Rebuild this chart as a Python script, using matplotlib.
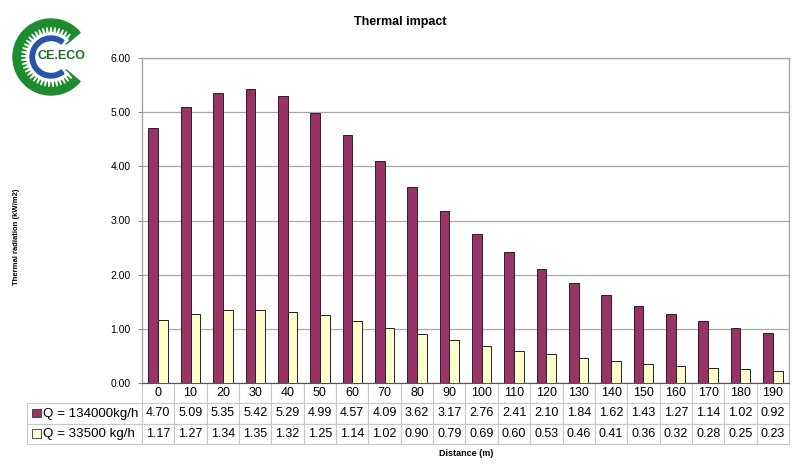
import numpy as np
import matplotlib
matplotlib.use('Agg')
import matplotlib.pyplot as plt
from matplotlib.patches import Wedge, Rectangle, Polygon

plt.rcParams['font.family'] = ['Liberation Sans', 'DejaVu Sans']

distances = [0, 10, 20, 30, 40, 50, 60, 70, 80, 90,
             100, 110, 120, 130, 140, 150, 160, 170, 180, 190]
q_high = [4.70, 5.09, 5.35, 5.42, 5.29, 4.99, 4.57, 4.09, 3.62, 3.17,
          2.76, 2.41, 2.10, 1.84, 1.62, 1.43, 1.27, 1.14, 1.02, 0.92]
q_low = [1.17, 1.27, 1.34, 1.35, 1.32, 1.25, 1.14, 1.02, 0.90, 0.79,
         0.69, 0.60, 0.53, 0.46, 0.41, 0.36, 0.32, 0.28, 0.25, 0.23]
series_names = ['Q = 134000kg/h', 'Q = 33500 kg/h']
series_colors = ['#993366', '#ffffcc']
y_ticks = [0, 1, 2, 3, 4, 5, 6]

fig = plt.figure(figsize=(8, 4.72), dpi=100)
W, H = 800, 472
ax_l, ax_r, ax_t, ax_b = 142, 789, 58, 383
ax = fig.add_axes([ax_l / W, 1 - ax_b / H, (ax_r - ax_l) / W, (ax_b - ax_t) / H])

x = np.arange(len(distances))
bw = 0.3
ax.bar(x - bw / 2, q_high, bw, color=series_colors[0], edgecolor='#222222', linewidth=0.7, zorder=3)
ax.bar(x + bw / 2, q_low, bw, color=series_colors[1], edgecolor='#222222', linewidth=0.7, zorder=3)

ax.set_xlim(-0.5, len(distances) - 0.5)
ax.set_ylim(0, 6)
ax.set_yticks(y_ticks)
ax.set_yticklabels(['%.2f' % v for v in y_ticks], fontsize=7.5)
ax.set_xticks([])
ax.yaxis.grid(True, color='#a8a8a8', linewidth=0.9, zorder=0)
ax.tick_params(axis='y', length=3, color='#888888', pad=5)
for s in ['left', 'right', 'top']:
    ax.spines[s].set_color('#a8a8a8')
    ax.spines[s].set_linewidth(1.0)
ax.spines['bottom'].set_color('#555555')

# data table below the plot
label_w = (ax_l - 27) / (ax_r - ax_l)
col_w = 1.0 / len(distances)
cells = [[''] + [str(d) for d in distances],
         [''] + ['%.2f' % v for v in q_high],
         [''] + ['%.2f' % v for v in q_low]]
tab_h = (444 - ax_b) / (ax_b - ax_t)
tbl = ax.table(cellText=cells, colWidths=[label_w] + [col_w] * len(distances),
               cellLoc='center', bbox=[-label_w, -tab_h, 1 + label_w, tab_h])
tbl.auto_set_font_size(False)
tbl.set_fontsize(9)
for (r, c), cell in tbl.get_celld().items():
    cell.set_edgecolor('#c8c8c8')
    cell.set_linewidth(0.8)
    cell.PAD = 0.02
tbl[0, 0].visible_edges = ''

row_h = tab_h / 3
for i, (name, col) in enumerate(zip(series_names, series_colors)):
    yc = -row_h * (i + 1.5)
    ax.add_patch(Rectangle((-label_w + 0.008, yc - 0.012), 0.013, 0.026,
                           transform=ax.transAxes, facecolor=col,
                           edgecolor='#333333', linewidth=0.6, clip_on=False))
    ax.text(-label_w + 0.024, yc, name, transform=ax.transAxes,
            ha='left', va='center', fontsize=9.6)

fig.text(0.5, 1 - 22 / H, 'Thermal impact', ha='center', va='center',
         fontsize=9, fontweight='bold')
fig.text(466 / W, 1 - 453 / H, 'Distance (m)', ha='center', va='center',
         fontsize=6.5, fontweight='bold')
fig.text(17 / W, 1 - 237 / H, 'Thermal radiation (kW/m2)', ha='center', va='center',
         rotation=90, fontsize=5.5, fontweight='bold')

# CE.ECO logo
lg = fig.add_axes([0, 0, 1, 1], zorder=5)
lg.set_xlim(0, W)
lg.set_ylim(H, 0)
lg.axis('off')
cx, cy = 51, 57
lg.add_patch(Wedge((cx, cy), 38, 40, 320, width=18, color='#1e8c2e'))
for a in np.deg2rad(np.arange(46, 318, 8)):
    d = np.deg2rad(2.6)
    pts = [(cx + 23.5 * np.cos(a - d * 1.4), cy + 23.5 * np.sin(a - d * 1.4)),
           (cx + 30 * np.cos(a - d * 0.5), cy + 30 * np.sin(a - d * 0.5)),
           (cx + 30 * np.cos(a + d * 0.5), cy + 30 * np.sin(a + d * 0.5)),
           (cx + 23.5 * np.cos(a + d * 1.4), cy + 23.5 * np.sin(a + d * 1.4))]
    lg.add_patch(Polygon(pts, closed=True, color='white', linewidth=0))
lg.add_patch(Wedge((cx, cy), 24, 44, 316, width=4, color='white'))
lg.add_patch(Wedge((cx, cy), 21, 52, 308, width=4.5, color='#2855a8'))
lg.text(61, 56, 'CE.ECO', ha='center', va='center', fontsize=9,
        fontweight='bold', color='#1a6e26')

fig.savefig('out.png', dpi=100)
